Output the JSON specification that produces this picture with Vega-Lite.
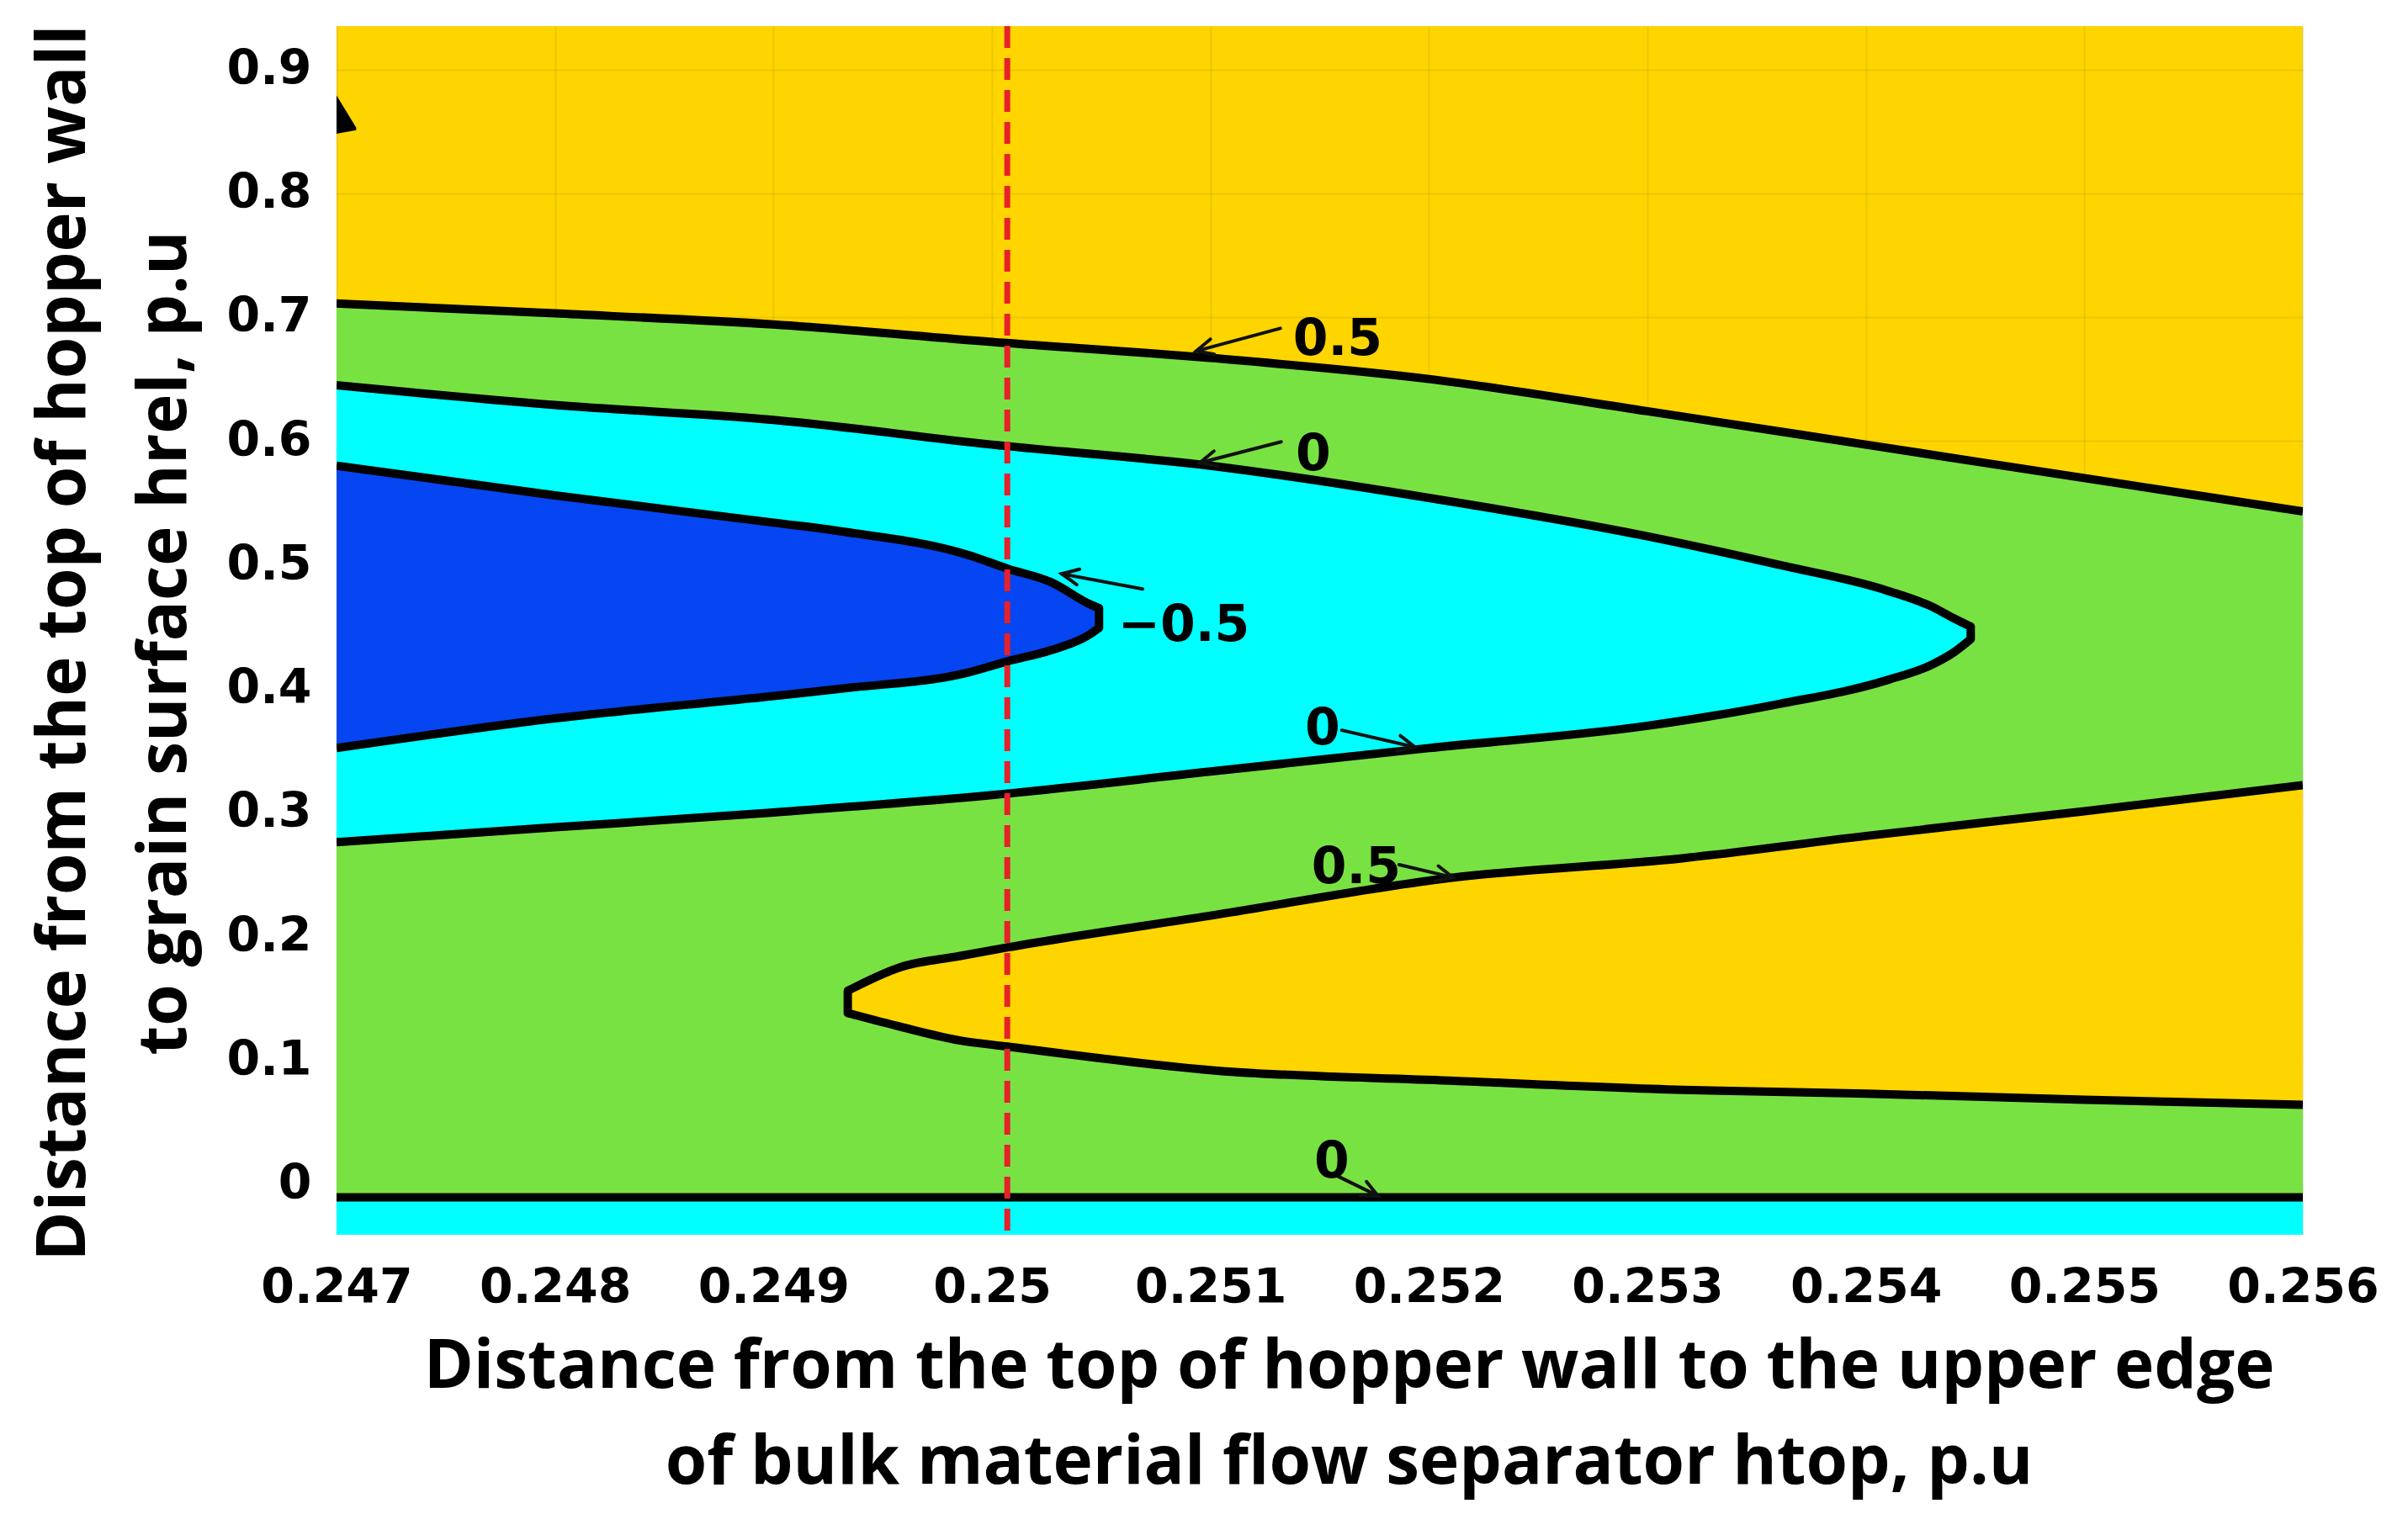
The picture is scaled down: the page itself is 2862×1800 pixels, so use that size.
{
  "$schema": "https://vega.github.io/schema/vega-lite/v6.json",
  "autosize": {"type": "none"},
  "padding": {"left": 400, "top": 31, "right": 125, "bottom": 332},
  "width": 2337,
  "height": 1437,
  "background": "white",
  "view": {"fill": "#FFD500", "stroke": null},
  "config": {
    "axis": {
      "grid": true, "gridColor": "#000000", "gridOpacity": 0.07, "gridWidth": 2,
      "domain": false, "ticks": false,
      "labelFont": "DejaVu Sans", "labelFontWeight": "bold", "labelFontSize": 57, "labelColor": "#000000",
      "labelFlush": false, "labelOverlap": false, "labelBound": false, "labelLimit": 0,
      "titleFont": "Open Sans", "titleFontWeight": "bold", "titleFontSize": 80, "titleColor": "#000000",
      "titleLimit": 0,
      "zindex": 1
    }
  },
  "datasets": {
    "regions": [
      {"r": "g", "x": 0.247, "top": 0.711, "bot": -0.0107},
      {"r": "g", "x": 0.248, "top": 0.703, "bot": -0.0107},
      {"r": "g", "x": 0.249, "top": 0.694, "bot": -0.0107},
      {"r": "g", "x": 0.25, "top": 0.680, "bot": -0.0107},
      {"r": "g", "x": 0.251, "top": 0.667, "bot": -0.0107},
      {"r": "g", "x": 0.252, "top": 0.650, "bot": -0.0107},
      {"r": "g", "x": 0.253, "top": 0.624, "bot": -0.0107},
      {"r": "g", "x": 0.254, "top": 0.597, "bot": -0.0107},
      {"r": "g", "x": 0.255, "top": 0.570, "bot": -0.0107},
      {"r": "g", "x": 0.256, "top": 0.543, "bot": -0.0107},
      {"r": "s", "x": 0.247, "top": -0.0107, "bot": -0.041},
      {"r": "s", "x": 0.256, "top": -0.0107, "bot": -0.041},
      {"r": "y", "x": 0.24934, "top": 0.156, "bot": 0.138, "tip": 1},
      {"r": "y", "x": 0.24958, "top": 0.175, "bot": 0.127},
      {"r": "y", "x": 0.24985, "top": 0.184, "bot": 0.116},
      {"r": "y", "x": 0.25007, "top": 0.191, "bot": 0.111},
      {"r": "y", "x": 0.25103, "top": 0.2175, "bot": 0.0915},
      {"r": "y", "x": 0.25209, "top": 0.247, "bot": 0.0835},
      {"r": "y", "x": 0.25316, "top": 0.263, "bot": 0.076},
      {"r": "y", "x": 0.254, "top": 0.281, "bot": 0.073},
      {"r": "y", "x": 0.255, "top": 0.301, "bot": 0.068},
      {"r": "y", "x": 0.256, "top": 0.322, "bot": 0.064},
      {"r": "c", "x": 0.247, "top": 0.645, "bot": 0.276},
      {"r": "c", "x": 0.248, "top": 0.629, "bot": 0.288},
      {"r": "c", "x": 0.249, "top": 0.617, "bot": 0.300},
      {"r": "c", "x": 0.25, "top": 0.597, "bot": 0.314},
      {"r": "c", "x": 0.251, "top": 0.580, "bot": 0.333},
      {"r": "c", "x": 0.252, "top": 0.554, "bot": 0.352},
      {"r": "c", "x": 0.253, "top": 0.523, "bot": 0.370},
      {"r": "c", "x": 0.2536, "top": 0.500, "bot": 0.3875},
      {"r": "c", "x": 0.2541, "top": 0.479, "bot": 0.407},
      {"r": "c", "x": 0.25431, "top": 0.4655, "bot": 0.420},
      {"r": "c", "x": 0.2544, "top": 0.457, "bot": 0.429},
      {"r": "c", "x": 0.25448, "top": 0.450, "bot": 0.440, "tip": 1},
      {"r": "b", "x": 0.247, "top": 0.580, "bot": 0.352},
      {"r": "b", "x": 0.248, "top": 0.556, "bot": 0.376},
      {"r": "b", "x": 0.249, "top": 0.534, "bot": 0.394},
      {"r": "b", "x": 0.24931, "top": 0.527, "bot": 0.400},
      {"r": "b", "x": 0.24989, "top": 0.508, "bot": 0.413},
      {"r": "b", "x": 0.25007, "top": 0.497, "bot": 0.422},
      {"r": "b", "x": 0.25027, "top": 0.486, "bot": 0.431},
      {"r": "b", "x": 0.25045, "top": 0.468, "bot": 0.444},
      {"r": "b", "x": 0.25049, "top": 0.465, "bot": 0.449, "tip": 1},
      {"r": "k", "x": 0.247, "top": 0.879, "bot": 0.848},
      {"r": "k", "x": 0.24709, "top": 0.853, "bot": 0.851}
    ],
    "labels": [
      {"t": "0.5", "x": 0.251582, "y": 0.6841},
      {"t": "0", "x": 0.251471, "y": 0.5914},
      {"t": "−0.5", "x": 0.250878, "y": 0.4533},
      {"t": "0", "x": 0.251513, "y": 0.3698},
      {"t": "0.5", "x": 0.251667, "y": 0.2578},
      {"t": "0", "x": 0.251555, "y": 0.0202}
    ],
    "arrows": [
      {"p": "a1s", "o": 1, "x": 0.25132, "y": 0.6909},
      {"p": "a1s", "o": 2, "x": 0.250935, "y": 0.6726},
      {"p": "a1h", "o": 1, "x": 0.251018, "y": 0.6700},
      {"p": "a1h", "o": 2, "x": 0.250935, "y": 0.6726},
      {"p": "a1h", "o": 3, "x": 0.251, "y": 0.6822},
      {"p": "a2s", "o": 1, "x": 0.251324, "y": 0.5993},
      {"p": "a2s", "o": 2, "x": 0.250951, "y": 0.5823},
      {"p": "a2h", "o": 1, "x": 0.251034, "y": 0.5796},
      {"p": "a2h", "o": 2, "x": 0.250951, "y": 0.5823},
      {"p": "a2h", "o": 3, "x": 0.251016, "y": 0.5918},
      {"p": "a3s", "o": 1, "x": 0.250689, "y": 0.4804},
      {"p": "a3s", "o": 2, "x": 0.250319, "y": 0.4927},
      {"p": "a3h", "o": 1, "x": 0.250388, "y": 0.4840},
      {"p": "a3h", "o": 2, "x": 0.250319, "y": 0.4927},
      {"p": "a3h", "o": 3, "x": 0.250401, "y": 0.4964},
      {"p": "a4s", "o": 1, "x": 0.251601, "y": 0.3664},
      {"p": "a4s", "o": 2, "x": 0.251936, "y": 0.3528},
      {"p": "a4h", "o": 1, "x": 0.251869, "y": 0.3620},
      {"p": "a4h", "o": 2, "x": 0.251936, "y": 0.3528},
      {"p": "a4h", "o": 3, "x": 0.251854, "y": 0.3497},
      {"p": "a5s", "o": 1, "x": 0.251863, "y": 0.2578},
      {"p": "a5s", "o": 2, "x": 0.25211, "y": 0.2476},
      {"p": "a5h", "o": 1, "x": 0.252043, "y": 0.2568},
      {"p": "a5h", "o": 2, "x": 0.25211, "y": 0.2476},
      {"p": "a5h", "o": 3, "x": 0.252027, "y": 0.2445},
      {"p": "a6s", "o": 1, "x": 0.251571, "y": 0.0073},
      {"p": "a6s", "o": 2, "x": 0.251767, "y": -0.0097},
      {"p": "a6h", "o": 1, "x": 0.251714, "y": 0.0019},
      {"p": "a6h", "o": 2, "x": 0.251767, "y": -0.0097},
      {"p": "a6h", "o": 3, "x": 0.251682, "y": -0.0094}
    ],
    "marker": [{"x": 0.25007}]
  },
  "layer": [
    {
      "data": {"name": "regions"},
      "transform": [{"filter": "datum.r == 'g'"}],
      "mark": {"type": "area", "color": "#79E243", "clip": true, "interpolate": "monotone"},
      "encoding": {
        "x": {"field": "x", "type": "quantitative", "scale": {"domain": [0.247, 0.256], "nice": false, "zero": false},
          "axis": {
            "values": [0.247, 0.248, 0.249, 0.25, 0.251, 0.252, 0.253, 0.254, 0.255, 0.256],
            "format": ".3~f", "labelPadding": 35,
            "title": ["Distance from the top of hopper wall to the upper edge", "of bulk material flow separator htop, p.u"],
            "titleX": 1203, "titleY": 181, "titleAlign": "center", "titleBaseline": "alphabetic", "titleLineHeight": 114, "titleAngle": 0
          }},
        "y": {"field": "top", "type": "quantitative", "stack": null, "scale": {"domain": [-0.041, 0.935], "nice": false, "zero": false},
          "axis": {
            "values": [0, 0.1, 0.2, 0.3, 0.4, 0.5, 0.6, 0.7, 0.8, 0.9],
            "format": ".1~f", "labelPadding": 30,
            "title": ["Distance from the top of hopper wall", "to grain surface hrel, p.u"],
            "titleX": -300, "titleY": 733, "titleAlign": "center", "titleBaseline": "alphabetic", "titleLineHeight": 120, "titleAngle": -90
          }},
        "y2": {"field": "bot"}
      }
    },
    {
      "data": {"name": "regions"},
      "transform": [{"filter": "datum.r == 's'"}],
      "mark": {"type": "area", "color": "#00FFFF", "clip": true},
      "encoding": {
        "x": {"field": "x", "type": "quantitative", "scale": {"domain": [0.247, 0.256], "nice": false, "zero": false}},
        "y": {"field": "top", "type": "quantitative", "stack": null, "scale": {"domain": [-0.041, 0.935], "nice": false, "zero": false}},
        "y2": {"field": "bot"}
      }
    },
    {
      "data": {"name": "regions"},
      "transform": [{"filter": "datum.r == 'y'"}],
      "mark": {"type": "area", "color": "#FFD500", "clip": true, "interpolate": "monotone"},
      "encoding": {
        "x": {"field": "x", "type": "quantitative", "scale": {"domain": [0.247, 0.256], "nice": false, "zero": false}},
        "y": {"field": "top", "type": "quantitative", "stack": null, "scale": {"domain": [-0.041, 0.935], "nice": false, "zero": false}},
        "y2": {"field": "bot"}
      }
    },
    {
      "data": {"name": "regions"},
      "transform": [{"filter": "datum.r == 'c'"}],
      "mark": {"type": "area", "color": "#00FFFF", "clip": true, "interpolate": "monotone"},
      "encoding": {
        "x": {"field": "x", "type": "quantitative", "scale": {"domain": [0.247, 0.256], "nice": false, "zero": false}},
        "y": {"field": "top", "type": "quantitative", "stack": null, "scale": {"domain": [-0.041, 0.935], "nice": false, "zero": false}},
        "y2": {"field": "bot"}
      }
    },
    {
      "data": {"name": "regions"},
      "transform": [{"filter": "datum.r == 'b'"}],
      "mark": {"type": "area", "color": "#0645F2", "clip": true, "interpolate": "monotone"},
      "encoding": {
        "x": {"field": "x", "type": "quantitative", "scale": {"domain": [0.247, 0.256], "nice": false, "zero": false}},
        "y": {"field": "top", "type": "quantitative", "stack": null, "scale": {"domain": [-0.041, 0.935], "nice": false, "zero": false}},
        "y2": {"field": "bot"}
      }
    },
    {
      "data": {"name": "regions"},
      "transform": [{"filter": "datum.r == 'k'"}],
      "mark": {"type": "area", "color": "#000000", "clip": true},
      "encoding": {
        "x": {"field": "x", "type": "quantitative", "scale": {"domain": [0.247, 0.256], "nice": false, "zero": false}},
        "y": {"field": "top", "type": "quantitative", "stack": null, "scale": {"domain": [-0.041, 0.935], "nice": false, "zero": false}},
        "y2": {"field": "bot"}
      }
    },
    {
      "data": {"name": "regions"},
      "transform": [
        {"filter": "datum.r != 's' && datum.r != 'k'"},
        {"fold": ["top", "bot"], "as": ["edge", "yv"]}
      ],
      "mark": {"type": "line", "color": "#000000", "strokeWidth": 10, "strokeJoin": "round", "strokeCap": "butt", "clip": true, "interpolate": "monotone"},
      "encoding": {
        "x": {"field": "x", "type": "quantitative", "scale": {"domain": [0.247, 0.256], "nice": false, "zero": false}},
        "y": {"field": "yv", "type": "quantitative", "scale": {"domain": [-0.041, 0.935], "nice": false, "zero": false}},
        "detail": [{"field": "r"}, {"field": "edge"}]
      }
    },
    {
      "data": {"name": "regions"},
      "transform": [{"filter": "datum.tip == 1"}],
      "mark": {"type": "rule", "color": "#000000", "strokeWidth": 10, "strokeCap": "round"},
      "encoding": {
        "x": {"field": "x", "type": "quantitative", "scale": {"domain": [0.247, 0.256], "nice": false, "zero": false}},
        "y": {"field": "top", "type": "quantitative", "scale": {"domain": [-0.041, 0.935], "nice": false, "zero": false}},
        "y2": {"field": "bot"}
      }
    },
    {
      "data": {"name": "marker"},
      "mark": {"type": "rule", "color": "#E8202A", "strokeWidth": 7, "strokeDash": [26, 12]},
      "encoding": {
        "x": {"field": "x", "type": "quantitative", "scale": {"domain": [0.247, 0.256], "nice": false, "zero": false}}
      }
    },
    {
      "data": {"name": "arrows"},
      "mark": {"type": "line", "color": "#111111", "strokeWidth": 4, "strokeJoin": "miter", "strokeCap": "round"},
      "encoding": {
        "x": {"field": "x", "type": "quantitative", "scale": {"domain": [0.247, 0.256], "nice": false, "zero": false}},
        "y": {"field": "y", "type": "quantitative", "scale": {"domain": [-0.041, 0.935], "nice": false, "zero": false}},
        "detail": {"field": "p"},
        "order": {"field": "o", "type": "quantitative"}
      }
    },
    {
      "data": {"name": "labels"},
      "mark": {"type": "text", "font": "DejaVu Sans", "fontWeight": "bold", "fontSize": 60, "color": "#000000", "align": "center", "baseline": "middle", "dy": 4},
      "encoding": {
        "x": {"field": "x", "type": "quantitative", "scale": {"domain": [0.247, 0.256], "nice": false, "zero": false}},
        "y": {"field": "y", "type": "quantitative", "scale": {"domain": [-0.041, 0.935], "nice": false, "zero": false}},
        "text": {"field": "t"}
      }
    }
  ]
}
